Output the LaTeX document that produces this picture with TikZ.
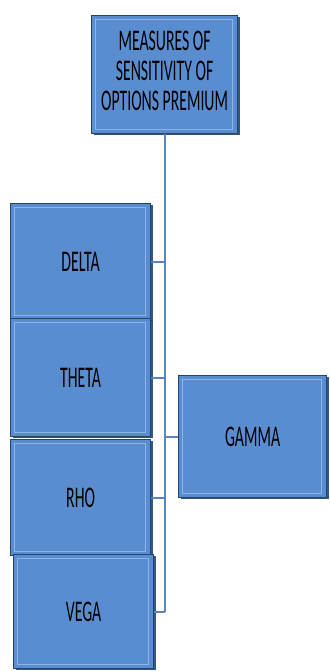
\documentclass[tikz,border=0pt]{standalone}
\usepackage{graphicx}
\usepackage{fontspec}
\setmainfont{Carlito}
\usepackage{tikz}
\usetikzlibrary{positioning,calc,shadows}
\definecolor{BoxFill}{HTML}{5A8DD0}
\definecolor{BoxDark}{HTML}{22456E}
\definecolor{BoxLight}{HTML}{8DB6E8}
\definecolor{Spine}{HTML}{5A85BD}
\newcommand{\tall}[1]{\scalebox{1.05}[2.0]{#1}}
\tikzset{
  greek/.style={fill=BoxFill, draw=BoxDark, line width=1.2pt,
        inner sep=0pt, anchor=north west,
        drop shadow={shadow xshift=2.5pt, shadow yshift=-1.5pt, fill=BoxDark, opacity=0.9},
        path picture={\draw[BoxLight, line width=1.5pt]
          ([shift={(4pt,-4pt)}]path picture bounding box.north west) rectangle
          ([shift={(-5pt,4pt)}]path picture bounding box.south east);}},
  link/.style={draw=Spine, line width=2pt}
}

\begin{document}
\begin{tikzpicture}[x=1pt, y=-1pt, every node/.style={font=\fontsize{15}{15}\selectfont, align=center}]
  \useasboundingbox (0,0) rectangle (329,671);
  \node[greek, minimum width=146pt, minimum height=118pt] (top) at (91,15)
    {\tall{\begin{tabular}{@{}c@{}}MEASURES OF\\SENSITIVITY OF\\OPTIONS PREMIUM\end{tabular}}};
  \node[greek, minimum width=140pt, minimum height=116pt] (delta) at (10,203) {\tall{DELTA}};
  \node[greek, minimum width=140pt, minimum height=118pt] (theta) at (10,318) {\tall{THETA}};
  \node[greek, minimum width=140pt, minimum height=116pt] (rho) at (10,439) {\tall{RHO}};
  \node[greek, minimum width=140pt, minimum height=114pt] (vega) at (13,554) {\tall{VEGA}};
  \node[greek, minimum width=148pt, minimum height=122pt] (gamma) at (178,375) {\tall{GAMMA}};

  % spine and branches
  \coordinate (foot) at (top.south |- vega.east);
  \draw[link] (top.south) -- (foot);
  \draw[link] (delta.east) -- (delta.east -| top.south);
  \draw[link] (theta.east) -- (theta.east -| top.south);
  \draw[link] (rho.east) -- (rho.east -| top.south);
  \draw[link] (vega.east) -- (foot);
  \draw[link] (gamma.west) -- (gamma.west -| top.south);
\end{tikzpicture}
\end{document}
